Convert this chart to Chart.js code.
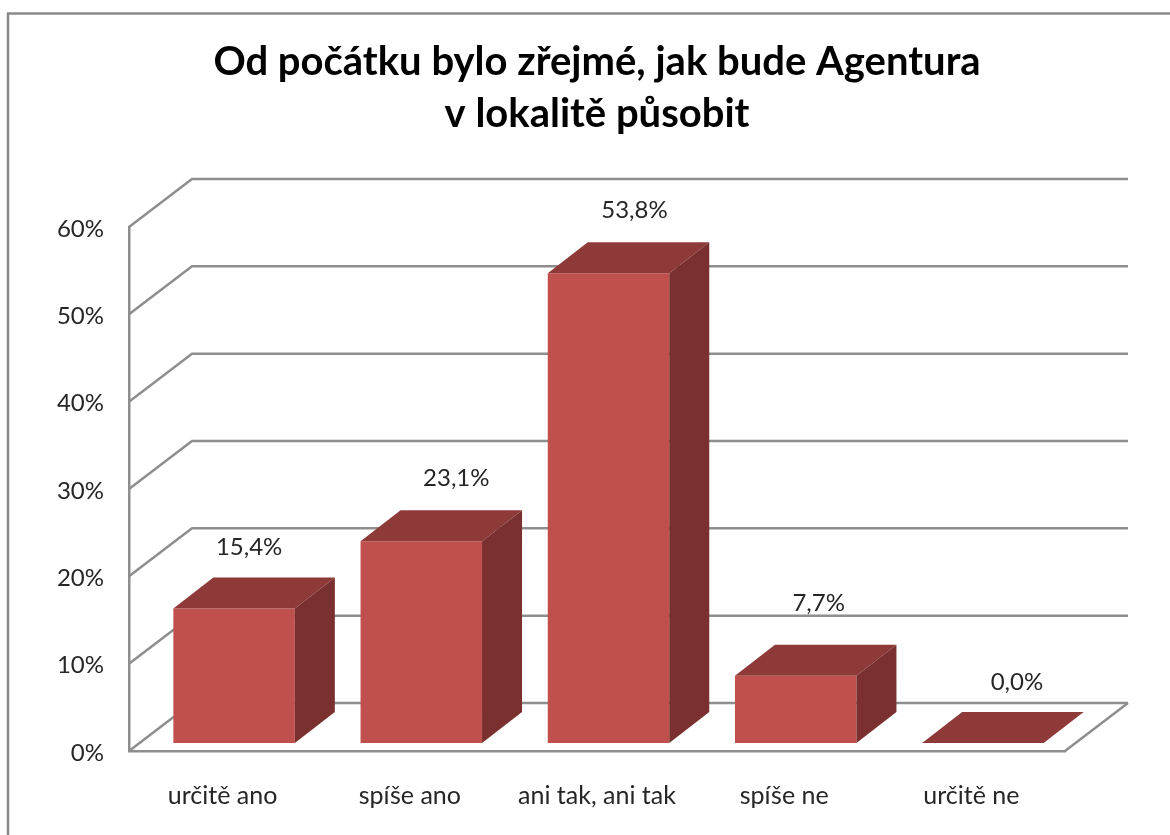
<!DOCTYPE html>
<html><head><meta charset="utf-8">
<style>html,body{margin:0;padding:0;background:#fff}#w{width:1170px;height:835px}canvas{display:block;filter:blur(0.4px)}</style>
<script src="https://cdn.jsdelivr.net/npm/chart.js@4"></script>
</head><body><div id="w"><canvas id="c" width="1170" height="835"></canvas></div>
<script>
const categories = ['určitě ano','spíše ano','ani tak, ani tak','spíše ne','určitě ne'];
const values = [15.4,23.1,53.8,7.7,0.0];
const valueLabels = ['15,4%','23,1%','53,8%','7,7%','0,0%'];
const titleLines = ['Od počátku bylo zřejmé, jak bude Agentura','v lokalitě působit'];

const GRID='#8e8e8e', FRONT='#C0504D', TOP='#8E3A38', SIDE='#7A302E';
const WALL={dx:63,dy:-48}, DEPTH={dx:40,dy:-31}, SHIFT={dx:11.5,dy:-8};
const NUDGE=[{x:15,y:-61},{x:35,y:-63},{x:26,y:-63},{x:23,y:-72},{x:34,y:-61}];

const scene={
  id:'scene',
  beforeDraw(chart){
    const {ctx,scales:{x,y}}=chart;
    const L=x.left,R=x.right,B=y.bottom;
    ctx.save();
    ctx.strokeStyle='#8a8a8a';ctx.lineWidth=2.5;
    ctx.beginPath();ctx.moveTo(8,840);ctx.lineTo(8,13.5);ctx.lineTo(1175,13.5);ctx.stroke();
    ctx.strokeStyle=GRID;ctx.lineWidth=2.5;
    y.ticks.forEach(t=>{
      const py=y.getPixelForValue(t.value);
      ctx.beginPath();ctx.moveTo(L,py);ctx.lineTo(L+WALL.dx,py+WALL.dy);ctx.lineTo(R+WALL.dx,py+WALL.dy);ctx.stroke();
    });
    ctx.beginPath();ctx.moveTo(R,B);ctx.lineTo(R+WALL.dx,B+WALL.dy);ctx.stroke();
    ctx.restore();
  },
  beforeDatasetDraw(chart){
    chart.ctx.save();chart.ctx.translate(SHIFT.dx,SHIFT.dy);
  },
  afterDatasetDraw(chart,args){
    const ctx=chart.ctx,B=chart.scales.y.bottom;
    args.meta.data.forEach(b=>{
      const p=b.getProps(['x','y','width'],true);
      const l=p.x-p.width/2,r=p.x+p.width/2,t=p.y,d=DEPTH;
      ctx.fillStyle=TOP;ctx.beginPath();ctx.moveTo(l,t);ctx.lineTo(l+d.dx,t+d.dy);ctx.lineTo(r+d.dx,t+d.dy);ctx.lineTo(r,t);ctx.closePath();ctx.fill();
      if(B-t>0){ctx.fillStyle=SIDE;ctx.beginPath();ctx.moveTo(r,t);ctx.lineTo(r+d.dx,t+d.dy);ctx.lineTo(r+d.dx,B+d.dy);ctx.lineTo(r,B);ctx.closePath();ctx.fill();}
    });
    ctx.restore();
  },
  afterDatasetsDraw(chart){
    const {ctx}=chart,meta=chart.getDatasetMeta(0);
    ctx.save();ctx.font='24px Lato';ctx.fillStyle='#262626';ctx.textAlign='center';ctx.textBaseline='middle';
    meta.data.forEach((b,i)=>{
      const p=b.getProps(['x','y'],true);
      ctx.fillText(valueLabels[i],p.x+SHIFT.dx+NUDGE[i].x,p.y+SHIFT.dy+NUDGE[i].y);
    });
    ctx.restore();
  }
};

new Chart(document.getElementById('c'),{
  type:'bar',
  data:{labels:categories,datasets:[{data:values,backgroundColor:FRONT,borderWidth:0,categoryPercentage:1,barPercentage:0.649,clip:false}]},
  plugins:[scene],
  options:{
    responsive:false,animation:false,
    layout:{padding:{left:0,right:105,top:0,bottom:0}},
    plugins:{
      legend:{display:false},tooltip:{enabled:false},
      title:{display:true,fullSize:false,text:titleLines,color:'#000',font:{family:'Lato',size:40,weight:'bold',lineHeight:1.3},padding:{top:36,bottom:87}}
    },
    scales:{
      x:{afterFit(s){s.height=84},grid:{display:false},border:{display:true,color:GRID,width:2.5},
         ticks:{color:'#262626',font:{family:'Lato',size:25},padding:22,maxRotation:0,autoSkip:false}},
      y:{min:0,max:60,afterFit(s){s.width=129},grid:{display:false,drawTicks:false},border:{display:true,color:GRID,width:2.5},
         ticks:{stepSize:10,color:'#262626',font:{family:'Lato',size:24},padding:25,labelOffset:2,callback:v=>v+'%'}}
    }
  }
});
</script></body></html>
